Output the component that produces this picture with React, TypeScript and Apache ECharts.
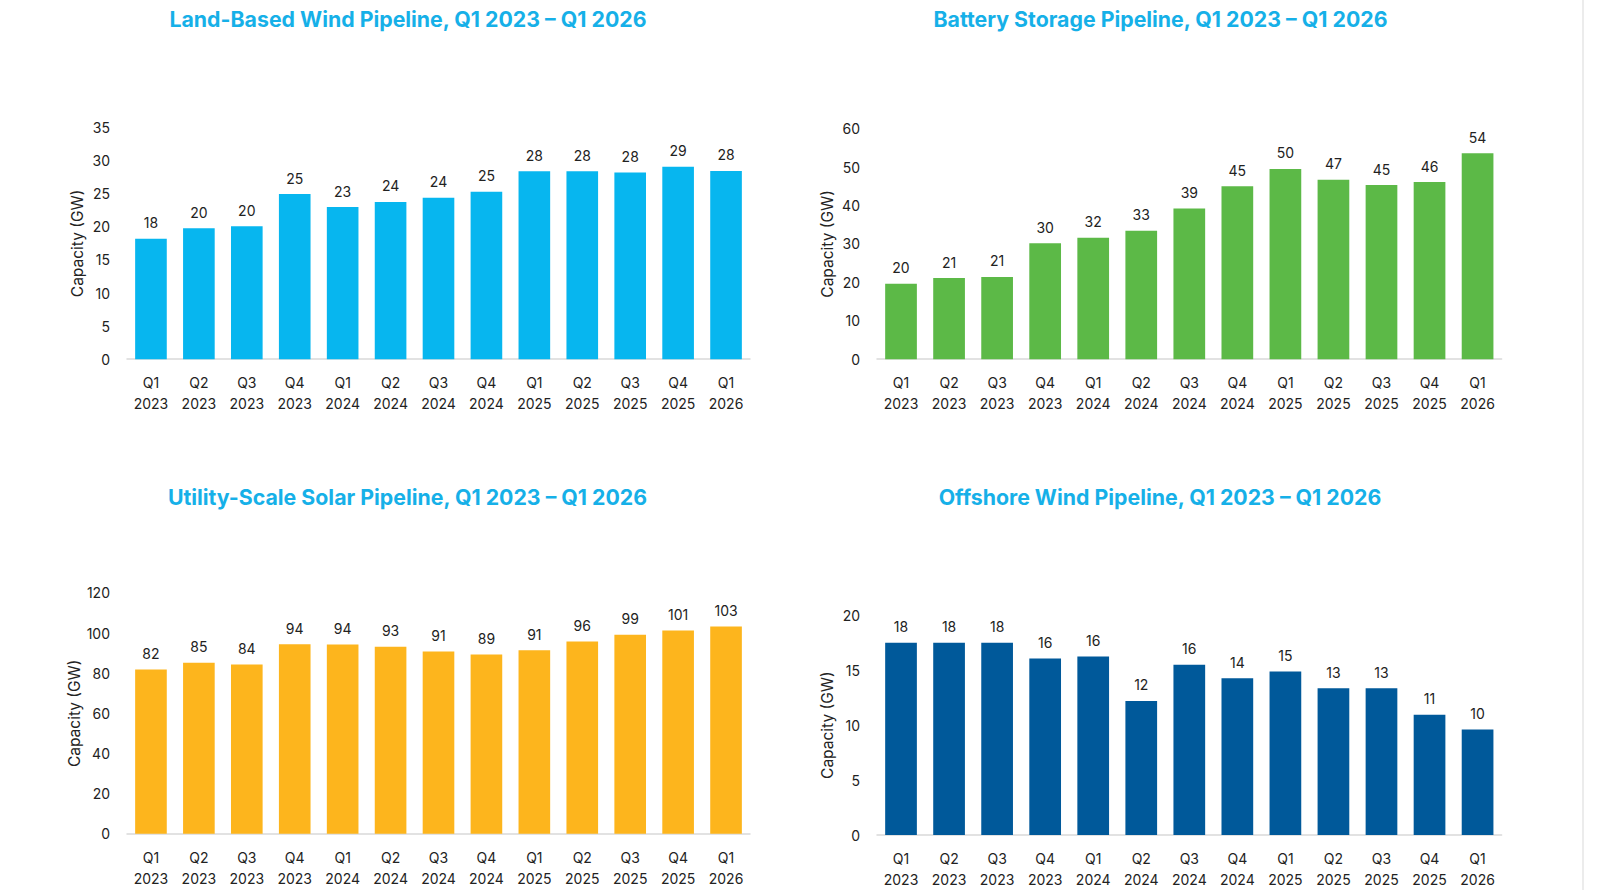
import React, { useEffect, useRef } from "react";
import * as echarts from "echarts";

const categories = [
  "Q1\n2023", "Q2\n2023", "Q3\n2023", "Q4\n2023",
  "Q1\n2024", "Q2\n2024", "Q3\n2024", "Q4\n2024",
  "Q1\n2025", "Q2\n2025", "Q3\n2025", "Q4\n2025",
  "Q1\n2026",
];

const landWind = [18.2, 19.8, 20.1, 24.96, 23.0, 23.76, 24.4, 25.3, 28.4, 28.4, 28.2, 29.1, 28.45];
const battery = [19.6, 21.1, 21.4, 30.2, 31.6, 33.4, 39.2, 45.0, 49.5, 46.7, 45.3, 46.1, 53.6];
const solar = [81.8, 85.2, 84.3, 94.4, 94.3, 93.2, 90.8, 89.3, 91.4, 95.8, 99.2, 101.3, 103.3];
const offshore = [17.5, 17.5, 17.5, 16.06, 16.24, 12.2, 15.5, 14.27, 14.88, 13.36, 13.36, 10.94, 9.6];

const titles = [
  "Land-Based Wind Pipeline, Q1 2023 \u2013 Q1 2026",
  "Battery Storage Pipeline, Q1 2023 \u2013 Q1 2026",
  "Utility-Scale Solar Pipeline, Q1 2023 \u2013 Q1 2026",
  "Offshore Wind Pipeline, Q1 2023 \u2013 Q1 2026",
];
const yMax = [35, 60, 120, 20];
const yInterval = [5, 10, 20, 5];
const yName = "Capacity (GW)";

export default function App() {
  const ref = useRef<HTMLDivElement>(null);
  useEffect(() => {
    document.body.style.margin = "0";
    const chart = echarts.init(ref.current!, null, { renderer: "svg" });
    const font = "Inter, Roboto, sans-serif";
    const grids = [
      { left: 127, top: 127.6, width: 623, height: 231.6 },
      { left: 877, top: 128.6, width: 624.6, height: 230.6 },
      { left: 127, top: 592.9, width: 623, height: 240.8 },
      { left: 877, top: 615.3, width: 624.6, height: 220.4 },
    ];
    const titlePos = [
      { x: 403, y: 14 },
      { x: 1155.5, y: 14 },
      { x: 402.5, y: 491.5 },
      { x: 1155, y: 491.5 },
    ];
    const colors = ["#07b6ef", "#5cb947", "#fdb51d", "#00599a"];
    const datasets = [landWind, battery, solar, offshore];
    const option: any = {
      animation: false,
      backgroundColor: "#ffffff",
      grid: grids,
      title: titles.map((t, i) => ({
        text: t,
        left: titlePos[i].x,
        top: titlePos[i].y,
        textAlign: "center",
        textVerticalAlign: "middle",
        textStyle: {
          fontFamily: font,
          fontWeight: "bold",
          fontSize: 21.3,
          color: "#16b0e8",
        },
      })),
      xAxis: grids.map((_, i) => ({
        type: "category",
        gridIndex: i,
        data: categories,
        axisLine: { show: true, lineStyle: { color: "#d9d9d9", width: 1.5 } },
        axisTick: { show: false },
        axisLabel: {
          fontFamily: font,
          fontSize: 14,
          color: "#222222",
          lineHeight: 21,
          margin: 13,
        },
      })),
      yAxis: grids.map((_, i) => ({
        type: "value",
        gridIndex: i,
        min: 0,
        max: yMax[i],
        interval: yInterval[i],
        axisLine: { show: false },
        axisTick: { show: false },
        splitLine: { show: false },
        axisLabel: {
          fontFamily: font,
          fontSize: 14,
          color: "#222222",
          margin: 17,
        },
        name: yName,
        nameLocation: "middle",
        nameGap: 42,
        nameRotate: 90,
        nameTextStyle: {
          fontFamily: font,
          fontSize: 15.5,
          color: "#222222",
        },
      })),
      series: datasets.map((d, i) => ({
        type: "bar",
        xAxisIndex: i,
        yAxisIndex: i,
        data: d,
        barWidth: "66%",
        itemStyle: { color: colors[i] },
        label: {
          show: true,
          position: "top",
          distance: 9,
          fontFamily: font,
          fontSize: 14,
          color: "#222222",
          formatter: (p: any) => String(Math.round(p.value)),
        },
      })),
      graphic: [
        {
          type: "line",
          shape: { x1: 1583, y1: 0, x2: 1583, y2: 890 },
          style: { stroke: "#ececec", lineWidth: 2 },
        },
      ],
    };
    chart.setOption(option);
    return () => chart.dispose();
  }, []);
  return <div ref={ref} style={{ width: 1600, height: 890 }} />;
}
